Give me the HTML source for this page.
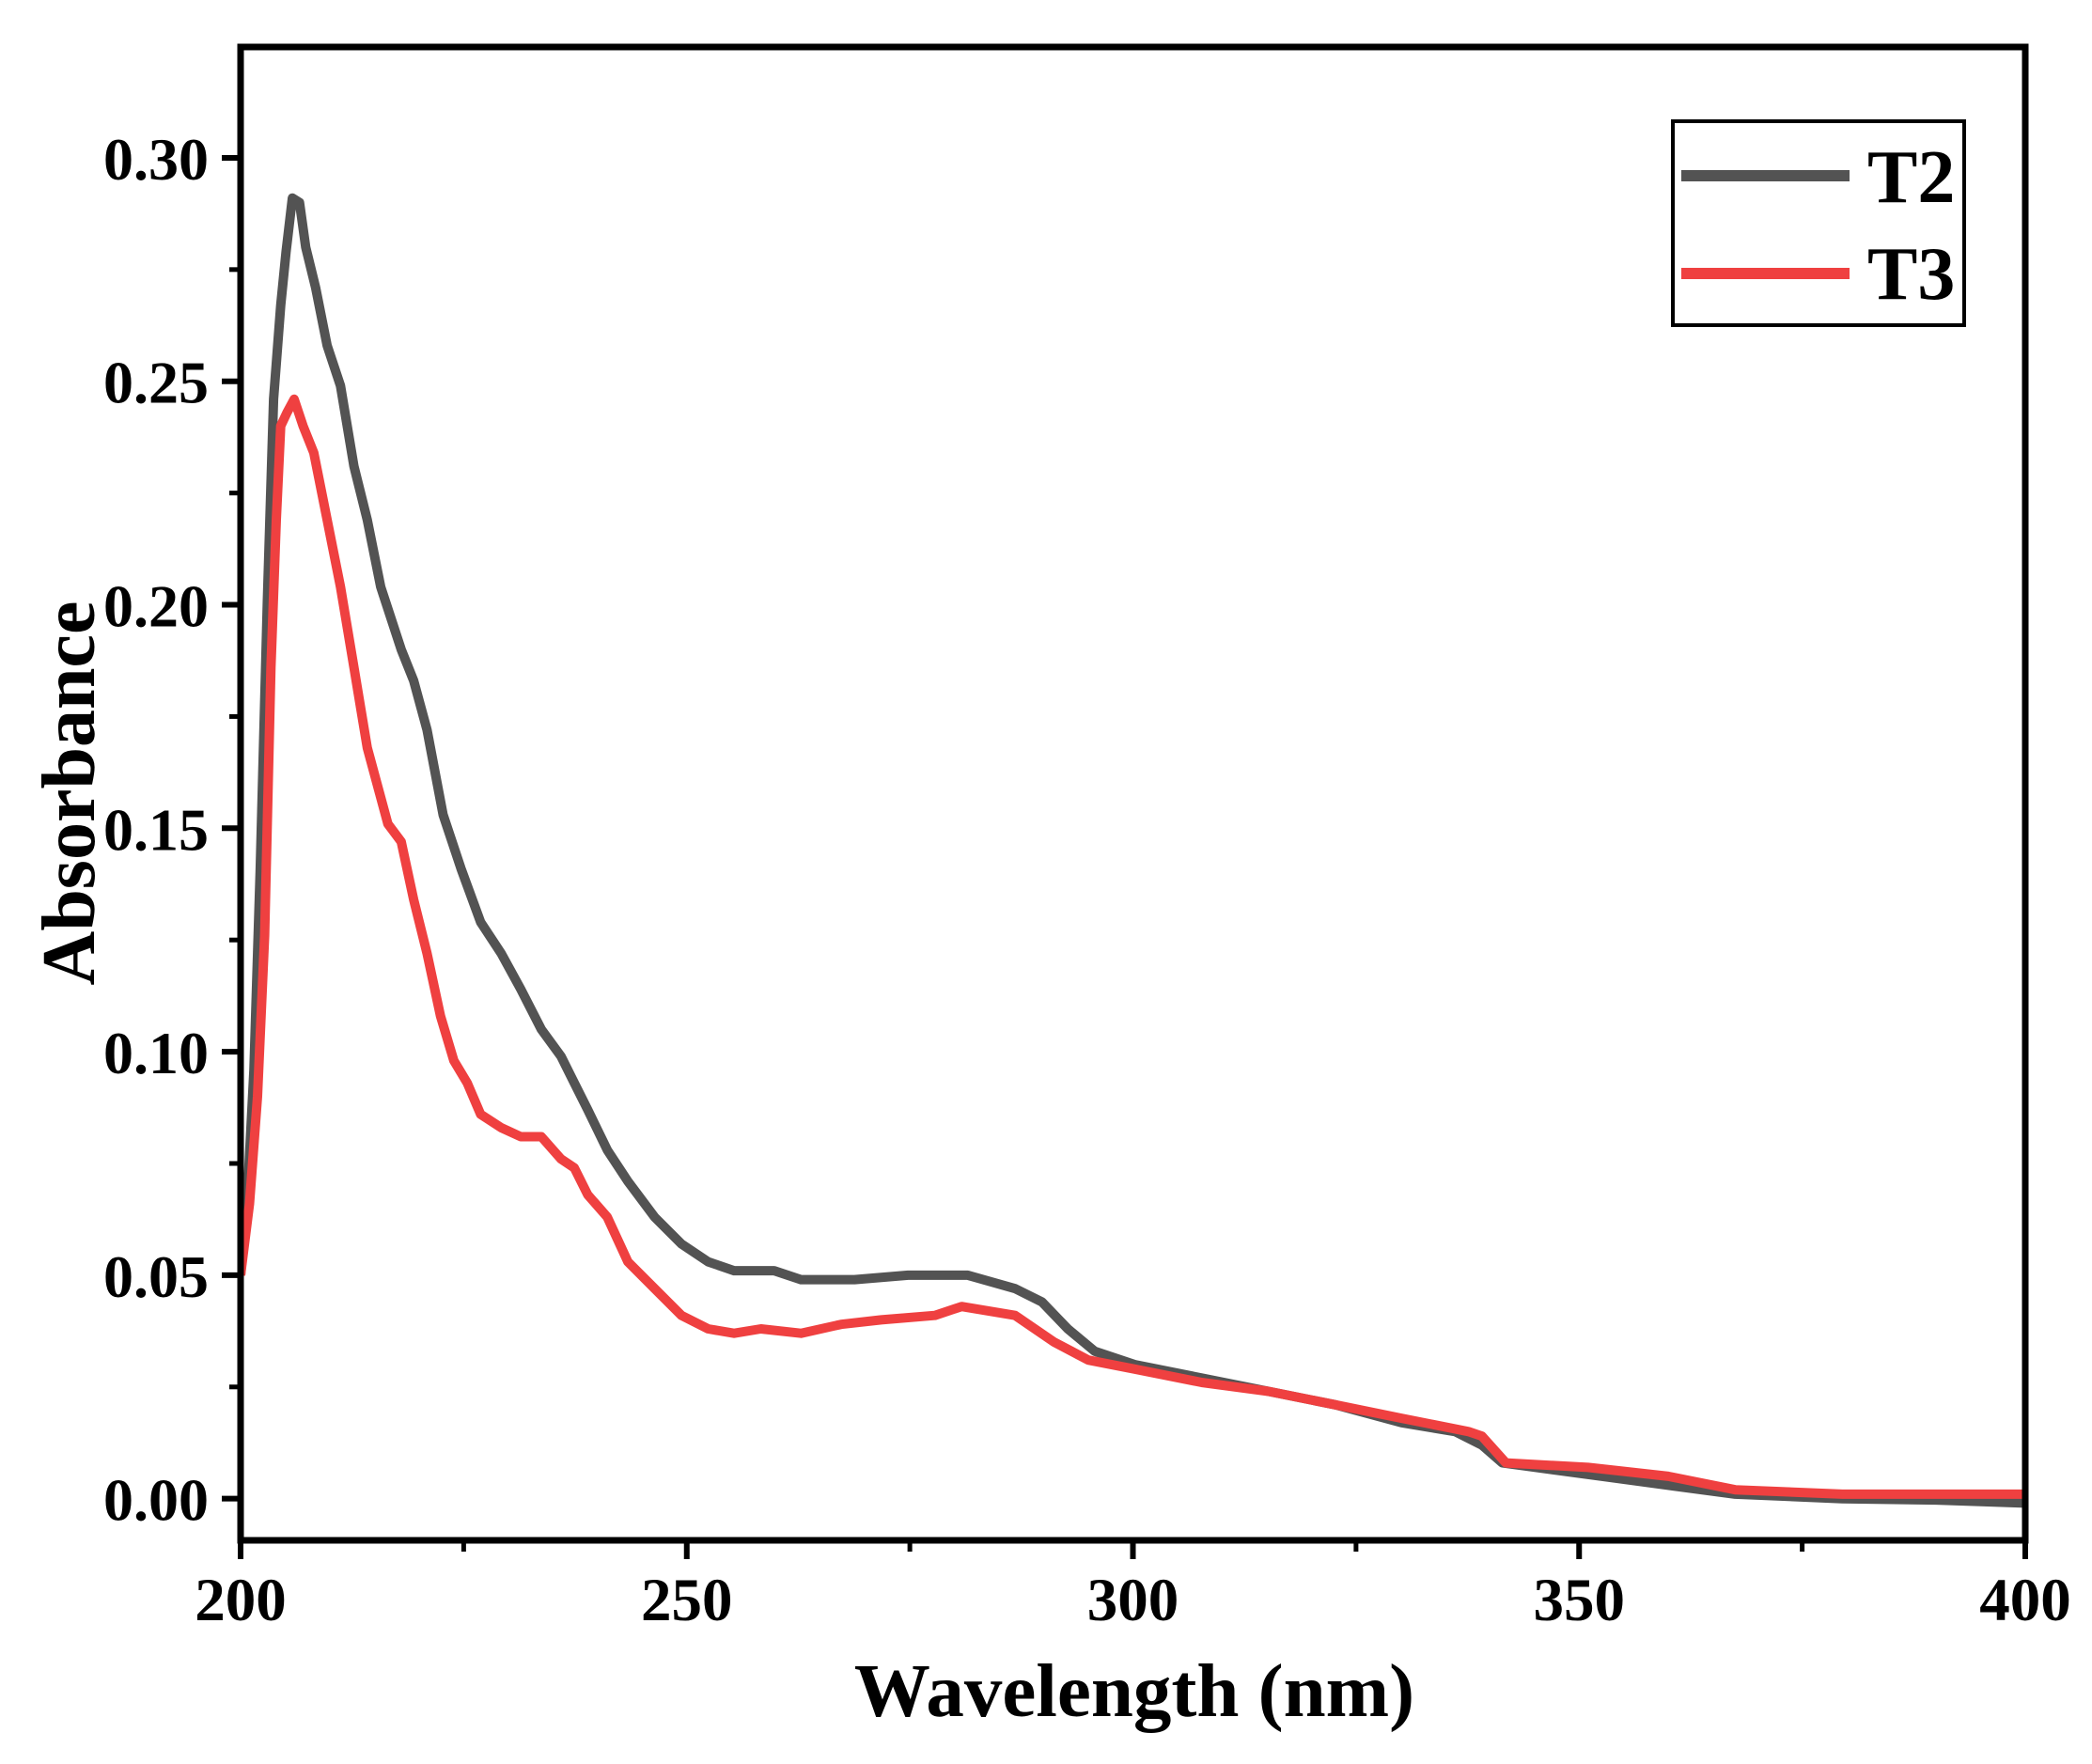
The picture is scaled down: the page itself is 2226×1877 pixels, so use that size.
<!DOCTYPE html>
<html><head><meta charset="utf-8"><style>
html,body{margin:0;padding:0;background:#fff;}
svg{display:block;font-family:"Liberation Serif","Times New Roman",serif;font-weight:bold;}
</style></head><body>
<svg id="chart" width="2226" height="1877" viewBox="0 0 2226 1877" xmlns="http://www.w3.org/2000/svg">
<rect x="0" y="0" width="2226" height="1877" fill="#fff"/>
<g id="plot"></g>
<text transform="translate(100,844) rotate(-90)" text-anchor="middle" font-size="80">Absorbance</text>
<text x="1207" y="1826" text-anchor="middle" font-size="81">Wavelength (nm)</text>
<g>
<rect x="1780" y="129" width="310" height="217" fill="#fff" stroke="#000" stroke-width="4"/>
<line x1="1789" y1="187" x2="1968" y2="187" stroke="#535353" stroke-width="12"/>
<text x="1987" y="215" font-size="80">T2</text>
<line x1="1789" y1="291" x2="1968" y2="291" stroke="#ef4040" stroke-width="12"/>
<text x="1987" y="318" font-size="80">T3</text>
</g>
</svg>
<script>
const wavelengths2 = [200,200.7,201.5,202.2,203,203.7,204.5,205.1,205.8,206.6,207.3,208.4,209.7,211.2,212.7,214.2,215.7,218,219.4,220.9,222.7,224.7,226.9,229.2,231.4,233.7,235.9,237.4,238.9,241.1,243.4,246.4,249.4,252.4,255.3,259.8,262.8,268.8,274.8,281.5,286.8,289.8,292.7,295.7,300.2,307.7,315.2,322.7,330.1,336.1,339.1,341.4,352.6,360,367.5,379.5,390,400];
const seriesT2 = [0.050,0.065,0.096,0.141,0.201,0.246,0.267,0.279,0.291,0.290,0.280,0.271,0.258,0.249,0.231,0.219,0.204,0.190,0.183,0.172,0.153,0.141,0.129,0.122,0.114,0.105,0.099,0.093,0.087,0.078,0.071,0.063,0.057,0.053,0.051,0.051,0.049,0.049,0.050,0.050,0.047,0.044,0.038,0.033,0.030,0.027,0.024,0.021,0.017,0.015,0.012,0.008,0.005,0.003,0.001,0.000,-0.0003,-0.001];
const wavelengths3 = [200,201,201.9,202.7,203.4,204,204.5,205.2,206,207,208.2,209.7,211.2,212.7,214.2,216.5,218,219.4,220.9,222.4,223.9,225.4,226.9,229.2,231.4,233.7,235.9,237.4,238.9,241.1,243.4,246.4,249.4,252.4,255.3,258.3,262.8,267.3,271.8,277.8,280.8,286.8,291.2,295,300.2,307.7,315.2,322.7,330.1,337.6,339.1,341.8,351,360,367.5,379.5,390,400];
const seriesT3 = [0.050,0.066,0.090,0.126,0.186,0.219,0.240,0.243,0.246,0.240,0.234,0.219,0.204,0.186,0.168,0.151,0.147,0.134,0.122,0.108,0.098,0.093,0.086,0.083,0.081,0.081,0.076,0.074,0.068,0.063,0.053,0.047,0.041,0.038,0.037,0.038,0.037,0.039,0.040,0.041,0.043,0.041,0.035,0.031,0.029,0.026,0.024,0.021,0.018,0.015,0.014,0.008,0.007,0.005,0.002,0.001,0.001,0.001];
const xTicks = [200,250,300,350,400];
const xTickLabels = ["200","250","300","350","400"];
const yTicks = [0,0.05,0.10,0.15,0.20,0.25,0.30];
const yTickLabels = ["0.00","0.05","0.10","0.15","0.20","0.25","0.30"];

const L=256,R=2155,T=50,B=1639;
const X0=200,X1=400,Y0=-0.00932,Y1=0.32480;
function sx(v){return L+(v-X0)/(X1-X0)*(R-L);}
function sy(v){return B-(v-Y0)/(Y1-Y0)*(B-T);}
const NS="http://www.w3.org/2000/svg";
const g=document.getElementById('plot');
function mk(tag,attrs){const e=document.createElementNS(NS,tag);for(const k in attrs)e.setAttribute(k,attrs[k]);g.appendChild(e);return e;}

function line(xs,ys,color,name){
  let d='';
  for(let i=0;i<xs.length;i++){d+=(i?'L':'M')+sx(xs[i]).toFixed(1)+','+sy(ys[i]).toFixed(1);}
  const p=mk('path',{d:d,fill:'none',stroke:color,'stroke-width':10,'stroke-linejoin':'round','clip-path':'url(#cp)'});
  
  
}
const clip=document.createElementNS(NS,'clipPath');clip.id='cp';
const cr=document.createElementNS(NS,'rect');cr.setAttribute('x',L);cr.setAttribute('y',T);cr.setAttribute('width',R-L);cr.setAttribute('height',B-T);
clip.appendChild(cr);g.appendChild(clip);
line(wavelengths2,seriesT2,'#535353','series-t2');
line(wavelengths3,seriesT3,'#ef4040','series-t3');

const fr=mk('rect',{x:L,y:T,width:R-L,height:B-T,fill:'none',stroke:'#000','stroke-width':7});



for(let i=0;i<xTicks.length;i++){
  const x=sx(xTicks[i]);
  const t=mk('line',{x1:x,y1:B,x2:x,y2:B+20,stroke:'#000','stroke-width':6});
  
  
  const lb=mk('text',{x:x,y:1724,'text-anchor':'middle','font-size':65});
  lb.textContent=xTickLabels[i];
  
  
  if(i<xTicks.length-1){
    const xm=sx(xTicks[i]+25);
    const m=mk('line',{x1:xm,y1:B,x2:xm,y2:B+12,stroke:'#000','stroke-width':5});
    
    
  }
}
for(let i=0;i<yTicks.length;i++){
  const y=sy(yTicks[i]);
  const t=mk('line',{x1:L,y1:y,x2:L-20,y2:y,stroke:'#000','stroke-width':6});
  
  
  const lb=mk('text',{x:222,y:y+23,'text-anchor':'end','font-size':64});
  lb.textContent=yTickLabels[i];
  
  
  const ym=sy(yTicks[i]+0.025);
  if(ym>T){
    const m=mk('line',{x1:L,y1:ym,x2:L-12,y2:ym,stroke:'#000','stroke-width':5});
    
    
  }
}
</script>
</body></html>
